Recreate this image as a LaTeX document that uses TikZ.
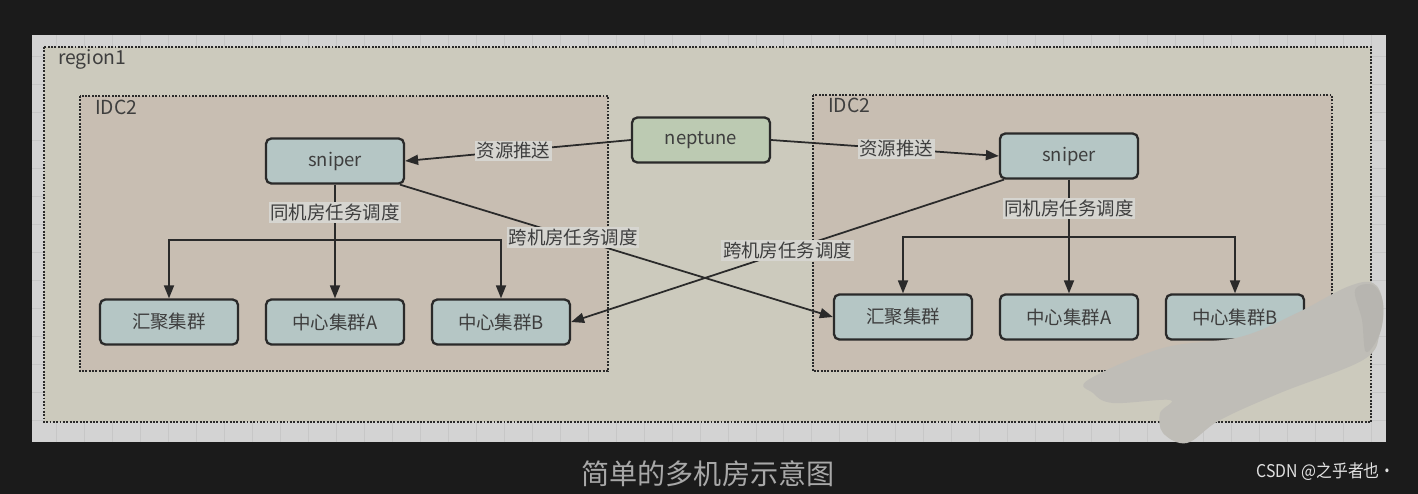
\documentclass[tikz,border=0pt]{standalone}
\usepackage{fontspec}
\setmainfont{Noto Sans CJK SC}
\usetikzlibrary{arrows.meta}

\definecolor{bgdark}{RGB}{27,27,27}
\definecolor{canvas}{RGB}{211,211,211}
\definecolor{gridc}{RGB}{199,199,199}
\definecolor{regionfill}{RGB}{204,202,189}
\definecolor{idcfill}{RGB}{200,190,178}
\definecolor{boxfill}{RGB}{181,198,197}
\definecolor{nepfill}{RGB}{188,202,178}
\definecolor{ink}{RGB}{42,42,42}
\definecolor{txt}{RGB}{62,62,62}
\definecolor{lblbg}{RGB}{214,213,208}
\definecolor{smudge}{RGB}{191,189,183}
\definecolor{smudgedark}{RGB}{176,175,170}
\definecolor{captxt}{RGB}{168,168,168}
\definecolor{srctxt}{RGB}{225,225,225}

\tikzset{
  box/.style={draw=ink, line width=1.3pt, rounded corners=3pt, fill=boxfill,
    minimum width=2.76cm, minimum height=0.9cm, text=txt,
    font=\fontsize{10.5}{12}\selectfont},
  zone/.style={draw=ink, line width=1.1pt, dash pattern=on 1.1pt off 0.8pt},
  conn/.style={draw=ink, line width=1pt},
  arr/.style={conn, -{Triangle[length=2.6mm,width=2mm]}},
  lbl/.style={fill=lblbg, inner sep=1pt, text=txt,
    font=\fontsize{10.5}{12}\selectfont},
  zonename/.style={anchor=west, text=txt, font=\fontsize{11}{13}\selectfont}
}

\begin{document}
\begin{tikzpicture}[x=0.02cm, y=-0.02cm]
    \useasboundingbox (0,0) rectangle (1418,494);
    \fill[bgdark] (0,0) rectangle (1418,494);
    \fill[canvas] (32,35) rectangle (1386,442);
    \draw[gridc, step=0.56cm] (32,35) grid (1386,442);

    % zones
    \filldraw[zone, fill=regionfill] (44,47) rectangle (1371,422);
    \node[zonename] (reg) at (52,59) {region1};
    \filldraw[zone, fill=idcfill] (80,96) rectangle (608,371);
    \node[zonename] (lidc) at (89,107) {IDC2};
    \filldraw[zone, fill=idcfill] (813,95) rectangle (1332,371);
    \node[zonename] (ridc) at (822,105) {IDC2};

    % nodes
    \node[box, fill=nepfill] (nep) at (701,140) {neptune};
    \node[box] (lsn) at (335,161) {sniper};
    \node[box] (rsn) at (1069,156) {sniper};
    \node[box] (lhj) at (169,322) {汇聚集群};
    \node[box] (lcA) at (335,322) {中心集群A};
    \node[box] (lcB) at (501,322) {中心集群B};
    \node[box] (rhj) at (903,317) {汇聚集群};
    \node[box] (rcA) at (1069,317) {中心集群A};
    \node[box] (rcB) at (1235,317) {中心集群B};

    % same-room dispatch
    \coordinate (ljn) at (335,240);
    \coordinate (rjn) at (1069,237);
    \draw[conn] (lsn) -- node[lbl] {同机房任务调度} (ljn);
    \draw[conn] (rsn) -- node[lbl] {同机房任务调度} (rjn);
    \foreach \t in {lhj,lcA,lcB} \draw[arr] (ljn) -| (\t.north);
    \foreach \t in {rhj,rcA,rcB} \draw[arr] (rjn) -| (\t.north);

    % resource push
    \draw[arr] (nep.west) -- node[lbl, pos=0.52] {资源推送} (lsn.east);
    \draw[arr] (nep.east) -- node[lbl, pos=0.55] {资源推送} (rsn.west);

    % cross-room dispatch
    \draw[arr] (lsn.-20) -- node[lbl, pos=0.4] {跨机房任务调度} (rhj.west);
    \draw[arr] (rsn.200) -- node[lbl, pos=0.5] {跨机房任务调度} (lcB.east);

    % smudge
    \fill[smudge] plot[smooth cycle, tension=0.6] coordinates {
      (1088,380) (1163,348) (1240,337) (1297,313) (1347,287) (1373,283)
      (1383,303) (1380,333) (1363,360) (1280,393) (1220,420) (1187,443)
      (1163,433) (1160,413) (1170,400) (1113,403) (1093,393)};
    \fill[smudgedark, opacity=0.5] plot[smooth cycle, tension=0.6] coordinates {
      (1355,290) (1373,285) (1383,303) (1380,333) (1366,352) (1362,320)};

    % caption
    \node[text=captxt, font=\fontsize{16}{18}\selectfont] (cap) at (708,474) {简单的多机房示意图};
    \node[text=srctxt, font=\fontsize{10}{12}\selectfont, xscale=0.9] (src) at (1326,472) {CSDN @之乎者也·};
\end{tikzpicture}
\end{document}
